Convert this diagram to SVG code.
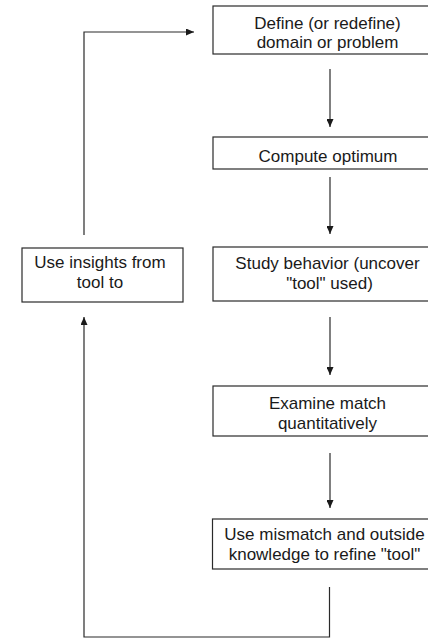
<svg xmlns="http://www.w3.org/2000/svg" width="428" height="639" viewBox="0 0 428 639">
<style>
.box{fill:#fff;stroke:#2a2a2a;stroke-width:1.2}
.t{font-family:"Liberation Sans",Arial,sans-serif;font-size:17px;fill:#1a1a1a;text-anchor:middle}
.c{fill:none;stroke:#2a2a2a;stroke-width:1.2}
</style>
<defs>
<marker id="ah" viewBox="0 0 8 7" refX="8" refY="3.5" markerWidth="8" markerHeight="7" markerUnits="userSpaceOnUse" orient="auto">
<path d="M0,0 L8,3.5 L0,7 z" fill="#1a1a1a"/>
</marker>
</defs>
<rect width="428" height="639" fill="#fff"/>
<g id="connectors">
<line class="c" x1="330" y1="69" x2="330" y2="127" marker-end="url(#ah)"/>
<line class="c" x1="330" y1="177" x2="330" y2="234" marker-end="url(#ah)"/>
<line class="c" x1="330" y1="317" x2="330" y2="375" marker-end="url(#ah)"/>
<line class="c" x1="330" y1="453" x2="330" y2="508" marker-end="url(#ah)"/>
<polyline class="c" points="329.5,587 329.5,637 84,637 84,317" marker-end="url(#ah)"/>
<polyline class="c" points="84,235 84,32 194,32" marker-end="url(#ah)"/>
</g>
<g id="define">
<rect class="box" x="213" y="6" width="229" height="48"/>
<text class="t" x="327.5" y="28.75">Define (or redefine)</text>
<text class="t" x="327.5" y="48.25">domain or problem</text>
</g>
<g id="compute">
<rect class="box" x="213" y="137" width="229" height="32"/>
<text class="t" x="328" y="161.5">Compute optimum</text>
</g>
<g id="study">
<rect class="box" x="213" y="247" width="229" height="54"/>
<text class="t" x="327.5" y="269.25">Study behavior (uncover</text>
<text class="t" x="329.5" y="288.75">"tool" used)</text>
</g>
<g id="insights">
<rect class="box" x="22" y="248" width="161" height="54"/>
<text class="t" x="100" y="268">Use insights from</text>
<text class="t" x="100" y="287.5">tool to</text>
</g>
<g id="examine">
<rect class="box" x="213" y="386" width="229" height="50"/>
<text class="t" x="327.5" y="409.25">Examine match</text>
<text class="t" x="327.5" y="428.75">quantitatively</text>
</g>
<g id="mismatch">
<rect class="box" x="212.5" y="519" width="229" height="50"/>
<text class="t" x="324.5" y="540">Use mismatch and outside</text>
<text class="t" x="324.5" y="559.5">knowledge to refine "tool"</text>
</g>
</svg>
